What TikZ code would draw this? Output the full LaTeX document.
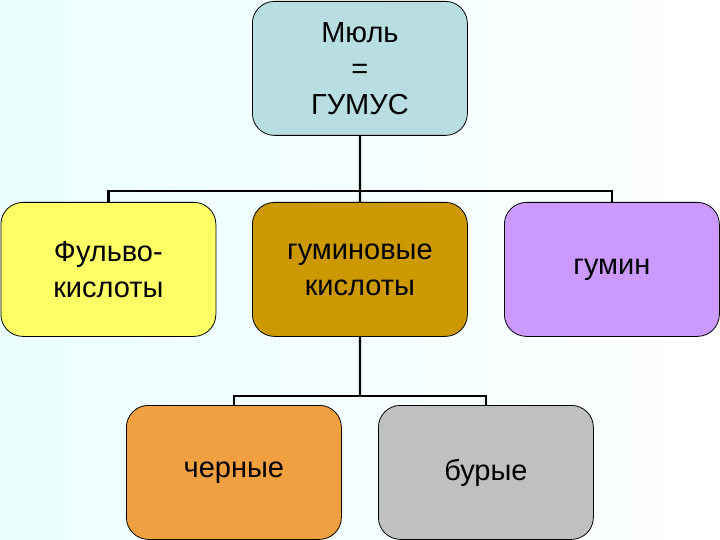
\documentclass[tikz,border=0pt]{standalone}
\usepackage{fontspec}
\setmainfont{Liberation Sans}
\begin{document}
\begin{tikzpicture}[x=1pt,y=-1pt,
  box/.style={draw=black,line width=0.8pt,rounded corners=22pt,minimum width=215pt,minimum height=134pt,anchor=north west,align=center,font=\fontsize{29}{36}\selectfont,inner sep=4pt},
  conn/.style={line width=2.2pt}]
\shade[left color=cyan!8!white,right color=white] (0,0) rectangle (720,540);
\useasboundingbox (0,0) rectangle (720,540);
\node[box,fill={rgb,255:red,184;green,222;blue,226}] (top) at (252,1) {Мюль\\=\\ГУМУС};
\node[box,fill={rgb,255:red,255;green,255;blue,102}] (f) at (0.5,202) {Фульво-\\кислоты};
\node[box,fill={rgb,255:red,204;green,153;blue,0}] (g) at (252,202) {гуминовые\\кислоты};
\node[box,fill={rgb,255:red,204;green,153;blue,255}] (h) at (504,202) {гумин};
\node[box,fill={rgb,255:red,240;green,160;blue,64}] (c) at (126,405) {черные};
\node[box,fill={rgb,255:red,192;green,192;blue,192}] (b) at (378,405) {бурые};
\coordinate (bus1) at (360,191);
\coordinate (bus2) at (360,396);
\draw[conn] (top.south) -- (bus1);
\draw[conn] (f.north) -- (f.north |- bus1) -- (h.north |- bus1) -- (h.north);
\draw[conn] (bus1) -- (g.north);
\draw[conn] (g.south) -- (bus2);
\draw[conn] (c.north) -- (c.north |- bus2) -- (b.north |- bus2) -- (b.north);
\end{tikzpicture}
\end{document}
